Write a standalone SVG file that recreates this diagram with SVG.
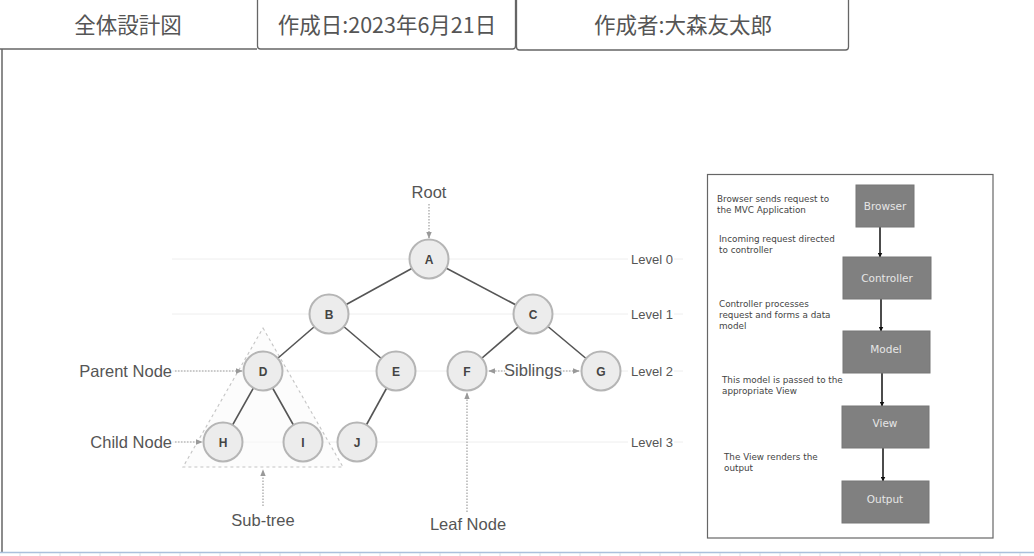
<svg xmlns="http://www.w3.org/2000/svg" width="1034" height="556" viewBox="0 0 1034 556">
<style>
.hdr{font-family:"Noto Sans CJK JP","Noto Sans",sans-serif;font-size:21.5px;fill:#555;text-anchor:middle}
.hbox{fill:#fff;stroke:#666;stroke-width:1.3}
.lvl{stroke:#eeeeee;stroke-width:1}
.lvlt{font-family:"Liberation Sans",Arial,sans-serif;font-size:13px;fill:#555}
.edge{stroke:#555;stroke-width:1.6}
.nd{fill:#ececec;stroke:#b5b5b5;stroke-width:2}
.ndt{font-family:"Liberation Sans",Arial,sans-serif;font-size:12px;font-weight:bold;fill:#444;text-anchor:middle}
.lab{font-family:"Liberation Sans",Arial,sans-serif;font-size:16.5px;fill:#555}
.dot{stroke:#a0a0a0;stroke-width:1.2;stroke-dasharray:1.5 1.5;fill:none}
.mbox{fill:#808080;stroke:#777;stroke-width:1}
.mt{font-family:"DejaVu Sans",Verdana,sans-serif;font-size:10.5px;fill:#e6e6e6;text-anchor:middle}
.ms{font-family:"DejaVu Sans",Verdana,sans-serif;font-size:8.8px;fill:#444}
.marr{stroke:#111;stroke-width:1.5}
</style>
<defs>
<marker id="ga" viewBox="0 0 10 10" refX="9" refY="5" markerWidth="7" markerHeight="7" orient="auto-start-reverse" markerUnits="userSpaceOnUse"><path d="M0,1 L10,5 L0,9 z" fill="#999"/></marker>
<marker id="ba" viewBox="0 0 10 10" refX="9" refY="5" markerWidth="5" markerHeight="5" orient="auto" markerUnits="userSpaceOnUse"><path d="M0,0 L10,5 L0,10 z" fill="#111"/></marker>
</defs>
<rect width="1034" height="556" fill="#fff"/>

<!-- sheet frame -->
<g id="frame">
<path d="M2,49 L2,552" stroke="#666" stroke-width="1.5" fill="none"/>
<path d="M0,49 L257,49" stroke="#666" stroke-width="1.5"/>
<line x1="0" y1="552.5" x2="1034" y2="552.5" stroke="#a9c0dc" stroke-width="1.5"/>
<g stroke="#d4dce6" stroke-width="1">
<line x1="20" y1="553" x2="20" y2="556"/><line x1="40" y1="553" x2="40" y2="556"/><line x1="60" y1="553" x2="60" y2="556"/><line x1="80" y1="553" x2="80" y2="556"/><line x1="100" y1="553" x2="100" y2="556"/><line x1="120" y1="553" x2="120" y2="556"/><line x1="140" y1="553" x2="140" y2="556"/><line x1="160" y1="553" x2="160" y2="556"/><line x1="180" y1="553" x2="180" y2="556"/><line x1="200" y1="553" x2="200" y2="556"/><line x1="220" y1="553" x2="220" y2="556"/><line x1="240" y1="553" x2="240" y2="556"/><line x1="260" y1="553" x2="260" y2="556"/><line x1="280" y1="553" x2="280" y2="556"/><line x1="300" y1="553" x2="300" y2="556"/><line x1="320" y1="553" x2="320" y2="556"/><line x1="340" y1="553" x2="340" y2="556"/><line x1="360" y1="553" x2="360" y2="556"/><line x1="380" y1="553" x2="380" y2="556"/><line x1="400" y1="553" x2="400" y2="556"/><line x1="420" y1="553" x2="420" y2="556"/><line x1="440" y1="553" x2="440" y2="556"/><line x1="460" y1="553" x2="460" y2="556"/><line x1="480" y1="553" x2="480" y2="556"/><line x1="500" y1="553" x2="500" y2="556"/><line x1="520" y1="553" x2="520" y2="556"/><line x1="540" y1="553" x2="540" y2="556"/><line x1="560" y1="553" x2="560" y2="556"/><line x1="580" y1="553" x2="580" y2="556"/><line x1="600" y1="553" x2="600" y2="556"/><line x1="620" y1="553" x2="620" y2="556"/><line x1="640" y1="553" x2="640" y2="556"/><line x1="660" y1="553" x2="660" y2="556"/><line x1="680" y1="553" x2="680" y2="556"/><line x1="700" y1="553" x2="700" y2="556"/><line x1="720" y1="553" x2="720" y2="556"/><line x1="740" y1="553" x2="740" y2="556"/><line x1="760" y1="553" x2="760" y2="556"/><line x1="780" y1="553" x2="780" y2="556"/><line x1="800" y1="553" x2="800" y2="556"/><line x1="820" y1="553" x2="820" y2="556"/><line x1="840" y1="553" x2="840" y2="556"/><line x1="860" y1="553" x2="860" y2="556"/><line x1="880" y1="553" x2="880" y2="556"/><line x1="900" y1="553" x2="900" y2="556"/><line x1="920" y1="553" x2="920" y2="556"/><line x1="940" y1="553" x2="940" y2="556"/><line x1="960" y1="553" x2="960" y2="556"/><line x1="980" y1="553" x2="980" y2="556"/><line x1="1000" y1="553" x2="1000" y2="556"/><line x1="1020" y1="553" x2="1020" y2="556"/>
</g>
</g>

<!-- header -->
<g id="hdr-title"><text class="hdr" x="128" y="33">全体設計図</text></g>
<g id="hdr-date"><rect class="hbox" x="257.5" y="-6" width="258" height="55" rx="3"/><text class="hdr" x="387" y="33">作成日:2023年6月21日</text></g>
<g id="hdr-author"><rect class="hbox" x="516.5" y="-6" width="332" height="56" rx="3"/><text class="hdr" x="683" y="33">作成者:大森友太郎</text></g>

<!-- MVC panel frame (drawn before connectors) -->
<g id="mvc-frame"><rect x="707.5" y="174.5" width="285.5" height="363.5" fill="#fff" stroke="#666" stroke-width="1.2"/></g>

<!-- level lines -->
<g id="levels">
<line class="lvl" x1="172" y1="259" x2="683" y2="259"/>
<line class="lvl" x1="172" y1="314" x2="683" y2="314"/>
<line class="lvl" x1="172" y1="371" x2="683" y2="371"/>
<line class="lvl" x1="172" y1="442" x2="683" y2="442"/>
<g fill="#fff"><rect x="628" y="252" width="46" height="14"/><rect x="628" y="307" width="46" height="14"/><rect x="628" y="364" width="46" height="14"/><rect x="628" y="435" width="46" height="14"/></g>
<text class="lvlt" x="631" y="263.5">Level 0</text>
<text class="lvlt" x="631" y="318.5">Level 1</text>
<text class="lvlt" x="631" y="375.5">Level 2</text>
<text class="lvlt" x="631" y="446.5">Level 3</text>
</g>

<!-- subtree -->
<g id="subtree"><polygon points="263,328 343,467 183,467" fill="#fafafa" fill-opacity="0.6" stroke="#c4c4c4" stroke-width="1.1" stroke-dasharray="3 3"/></g>

<!-- connectors -->
<g id="connectors">
<line class="edge" x1="429" y1="259" x2="329" y2="314"/>
<line class="edge" x1="429" y1="259" x2="533" y2="314"/>
<line class="edge" x1="329" y1="314" x2="263" y2="371"/>
<line class="edge" x1="329" y1="314" x2="396" y2="371"/>
<line class="edge" x1="533" y1="314" x2="467" y2="371"/>
<line class="edge" x1="533" y1="314" x2="601" y2="371"/>
<line class="edge" x1="263" y1="371" x2="223" y2="442"/>
<line class="edge" x1="263" y1="371" x2="303" y2="442"/>
<line class="edge" x1="396" y1="371" x2="357" y2="442"/>
<line class="dot" x1="429" y1="204" x2="429" y2="238" marker-end="url(#ga)"/>
<line class="dot" x1="175" y1="371" x2="242" y2="371" marker-end="url(#ga)"/>
<line class="dot" x1="175" y1="442" x2="202" y2="442" marker-end="url(#ga)"/>
<line class="dot" x1="489" y1="371" x2="505" y2="371" marker-start="url(#ga)"/>
<line class="dot" x1="560" y1="371" x2="579" y2="371" marker-end="url(#ga)"/>
<line class="dot" x1="467" y1="512" x2="467" y2="393" marker-end="url(#ga)"/>
<line class="dot" x1="263" y1="506" x2="263" y2="470" marker-end="url(#ga)"/>
<line class="marr" x1="880" y1="227" x2="880" y2="257" marker-end="url(#ba)"/>
<line class="marr" x1="881" y1="299" x2="881" y2="331" marker-end="url(#ba)"/>
<line class="marr" x1="882" y1="373" x2="882" y2="406" marker-end="url(#ba)"/>
<line class="marr" x1="883" y1="448" x2="883" y2="481" marker-end="url(#ba)"/>
</g>

<!-- tree nodes -->
<g id="node-A"><circle class="nd" cx="429" cy="259" r="19.5"/><text class="ndt" x="429" y="263.5">A</text></g>
<g id="node-B"><circle class="nd" cx="329" cy="314" r="19.5"/><text class="ndt" x="329" y="318.5">B</text></g>
<g id="node-C"><circle class="nd" cx="533" cy="314" r="19.5"/><text class="ndt" x="533" y="318.5">C</text></g>
<g id="node-D"><circle class="nd" cx="263" cy="371" r="19.5"/><text class="ndt" x="263" y="375.5">D</text></g>
<g id="node-E"><circle class="nd" cx="396" cy="371" r="19.5"/><text class="ndt" x="396" y="375.5">E</text></g>
<g id="node-F"><circle class="nd" cx="467" cy="371" r="19.5"/><text class="ndt" x="467" y="375.5">F</text></g>
<g id="node-G"><circle class="nd" cx="601" cy="371" r="19.5"/><text class="ndt" x="601" y="375.5">G</text></g>
<g id="node-H"><circle class="nd" cx="223" cy="442" r="19.5"/><text class="ndt" x="223" y="446.5">H</text></g>
<g id="node-I"><circle class="nd" cx="303" cy="442" r="19.5"/><text class="ndt" x="303" y="446.5">I</text></g>
<g id="node-J"><circle class="nd" cx="357" cy="442" r="19.5"/><text class="ndt" x="357" y="446.5">J</text></g>

<!-- labels -->
<g id="labels">
<text class="lab" x="429" y="198" text-anchor="middle">Root</text>
<text class="lab" x="172" y="377" text-anchor="end">Parent Node</text>
<text class="lab" x="172" y="448" text-anchor="end">Child Node</text>
<text class="lab" x="533" y="376" text-anchor="middle" font-size="15">Siblings</text>
<text class="lab" x="263" y="526" text-anchor="middle">Sub-tree</text>
<text class="lab" x="468" y="530" text-anchor="middle">Leaf Node</text>
</g>

<g id="mvc-notes">
<text class="ms" x="717" y="202">Browser sends request to</text>
<text class="ms" x="717" y="213">the MVC Application</text>
<text class="ms" x="719" y="242">Incoming request directed</text>
<text class="ms" x="719" y="253">to controller</text>
<text class="ms" x="719" y="307">Controller processes</text>
<text class="ms" x="719" y="318">request and forms a data</text>
<text class="ms" x="719" y="329">model</text>
<text class="ms" x="722" y="383">This model is passed to the</text>
<text class="ms" x="722" y="394">appropriate View</text>
<text class="ms" x="724" y="460">The View renders the</text>
<text class="ms" x="724" y="471">output</text>
</g>
<g id="mvc-browser"><rect class="mbox" x="856" y="185" width="58" height="42"/><text class="mt" x="885" y="210">Browser</text></g>
<g id="mvc-controller"><rect class="mbox" x="843" y="257" width="88" height="42"/><text class="mt" x="887" y="282">Controller</text></g>
<g id="mvc-model"><rect class="mbox" x="843" y="331" width="87" height="42"/><text class="mt" x="886" y="353">Model</text></g>
<g id="mvc-view"><rect class="mbox" x="842" y="406" width="87" height="42"/><text class="mt" x="885" y="427">View</text></g>
<g id="mvc-output"><rect class="mbox" x="842" y="481" width="87" height="42"/><text class="mt" x="885" y="503">Output</text></g>
</svg>
